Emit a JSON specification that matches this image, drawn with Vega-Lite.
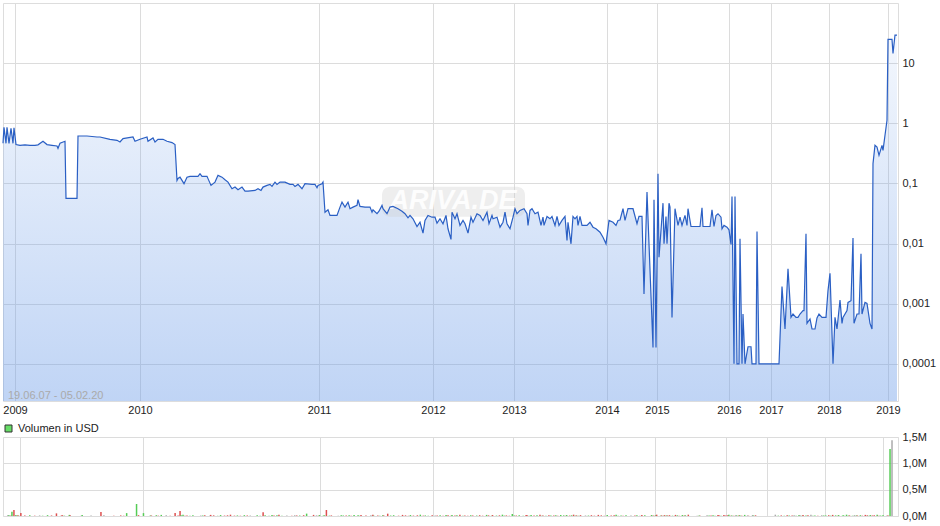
{
  "$schema": "https://vega.github.io/schema/vega-lite/v6.json",
  "padding": {"left": 0, "top": 2, "right": 0, "bottom": 0},
  "bounds": "flush",
  "spacing": 36,
  "background": "#ffffff",
  "resolve": {"scale": {"fill": "independent", "color": "independent"}, "legend": {"fill": "independent", "color": "independent"}},
  "datasets": {
    "px": [
      {"n":0,"p":0.464,"v":20000},{"n":1,"p":0.858,"v":15000},{"n":3,"p":0.464,"v":9000},{"n":4,"p":0.858,"v":80000},{"n":6,"p":0.464,"v":114000},{"n":8,"p":0.825,"v":21000},{"n":10,"p":0.464,"v":12000},{"n":11,"p":0.841,"v":6000},{"n":13,"p":0.442,"v":57000},{"n":17,"p":0.43,"v":8000},{"n":22,"p":0.438,"v":13000},{"n":27,"p":0.43,"v":6000},{"n":32,"p":0.43,"v":11000},{"n":35,"p":0.438,"v":5000},{"n":40,"p":0.501,"v":16000},{"n":44,"p":0.442,"v":10000},{"n":49,"p":0.43,"v":50000},{"n":54,"p":0.419,"v":9000},{"n":55,"p":0.383,"v":15000},{"n":57,"p":0.464,"v":6000},{"n":62,"p":0.501,"v":21000},{"n":63,"p":0.0562,"v":12000},{"n":74,"p":0.0562,"v":4000},{"n":75,"p":0.614,"v":18000},{"n":84,"p":0.614,"v":8000},{"n":94,"p":0.591,"v":76000},{"n":97,"p":0.591,"v":13000},{"n":107,"p":0.541,"v":7000},{"n":114,"p":0.521,"v":11000},{"n":117,"p":0.488,"v":5000},{"n":120,"p":0.556,"v":55000},{"n":130,"p":0.591,"v":228000},{"n":132,"p":0.501,"v":16000},{"n":137,"p":0.541,"v":55000},{"n":144,"p":0.591,"v":10000},{"n":145,"p":0.501,"v":9000},{"n":150,"p":0.569,"v":15000},{"n":152,"p":0.488,"v":6000},{"n":155,"p":0.541,"v":21000},{"n":160,"p":0.541,"v":12000},{"n":164,"p":0.501,"v":4000},{"n":169,"p":0.477,"v":55000},{"n":172,"p":0.442,"v":8000},{"n":174,"p":0.112,"v":95000},
      {"n":175,"p":0.121,"v":13000},{"n":177,"p":0.127,"v":25000},{"n":179,"p":0.112,"v":7000},{"n":181,"p":0.0989,"v":11000},{"n":184,"p":0.127,"v":5000},{"n":187,"p":0.131,"v":16000},{"n":195,"p":0.131,"v":10000},{"n":197,"p":0.145,"v":9000},{"n":199,"p":0.131,"v":15000},{"n":204,"p":0.131,"v":6000},{"n":205,"p":0.12,"v":21000},{"n":208,"p":0.0926,"v":12000},{"n":212,"p":0.105,"v":4000},{"n":215,"p":0.136,"v":18000},{"n":219,"p":0.127,"v":8000},{"n":222,"p":0.115,"v":13000},{"n":225,"p":0.105,"v":25000},{"n":229,"p":0.0816,"v":7000},{"n":232,"p":0.0868,"v":11000},{"n":235,"p":0.0785,"v":5000},{"n":239,"p":0.0868,"v":16000},{"n":242,"p":0.0745,"v":10000},{"n":245,"p":0.0745,"v":9000},{"n":252,"p":0.0764,"v":15000},{"n":255,"p":0.0816,"v":6000},{"n":258,"p":0.0764,"v":70000},{"n":260,"p":0.0868,"v":12000},{"n":264,"p":0.0926,"v":4000},{"n":267,"p":0.0962,"v":18000},{"n":269,"p":0.0891,"v":8000},{"n":272,"p":0.105,"v":13000},{"n":274,"p":0.0962,"v":25000},{"n":277,"p":0.105,"v":7000},{"n":282,"p":0.105,"v":11000},{"n":287,"p":0.0962,"v":5000},{"n":290,"p":0.0962,"v":16000},{"n":292,"p":0.0891,"v":10000},{"n":295,"p":0.0962,"v":9000},{"n":299,"p":0.0816,"v":15000},{"n":302,"p":0.0989,"v":45000},{"n":309,"p":0.0962,"v":21000},{"n":312,"p":0.0962,"v":12000},{"n":314,"p":0.0848,"v":4000},{"n":315,"p":0.0926,"v":18000},{"n":319,"p":0.0989,"v":8000},{"n":320,"p":0.105,"v":13000},{"n":322,"p":0.0332,"v":114000},{"n":325,"p":0.0365,"v":7000},{"n":327,"p":0.0293,"v":11000},{"n":334,"p":0.0293,"v":5000},{"n":337,"p":0.0403,"v":16000},{"n":339,"p":0.0488,"v":10000},{"n":342,"p":0.0403,"v":9000},{"n":345,"p":0.0488,"v":15000},{"n":347,"p":0.0379,"v":6000},{"n":350,"p":0.0403,"v":21000},
      {"n":354,"p":0.043,"v":12000},{"n":355,"p":0.0535,"v":4000},{"n":357,"p":0.0414,"v":18000},{"n":362,"p":0.0403,"v":8000},{"n":367,"p":0.0403,"v":13000},{"n":369,"p":0.0332,"v":25000},{"n":370,"p":0.0365,"v":7000},{"n":374,"p":0.0313,"v":11000},{"n":376,"p":0.0345,"v":5000},{"n":379,"p":0.043,"v":16000},{"n":380,"p":0.0379,"v":10000},{"n":384,"p":0.0313,"v":44000},{"n":387,"p":0.0403,"v":9000},{"n":390,"p":0.0414,"v":15000},{"n":395,"p":0.0379,"v":6000},{"n":399,"p":0.0345,"v":21000},{"n":402,"p":0.0313,"v":12000},{"n":405,"p":0.0268,"v":4000},{"n":407,"p":0.0293,"v":18000},{"n":410,"p":0.0258,"v":8000},{"n":414,"p":0.0192,"v":13000},{"n":417,"p":0.0226,"v":25000},{"n":420,"p":0.0149,"v":7000},{"n":422,"p":0.0242,"v":11000},{"n":425,"p":0.0293,"v":5000},{"n":429,"p":0.0274,"v":16000},{"n":432,"p":0.0274,"v":10000},{"n":434,"p":0.0218,"v":9000},{"n":437,"p":0.0258,"v":15000},{"n":440,"p":0.0213,"v":6000},{"n":443,"p":0.0293,"v":21000},{"n":445,"p":0.0176,"v":12000},{"n":448,"p":0.0117,"v":4000},{"n":449,"p":0.0332,"v":18000},{"n":452,"p":0.0258,"v":8000},{"n":454,"p":0.0313,"v":13000},{"n":457,"p":0.02,"v":25000},{"n":460,"p":0.0242,"v":7000},{"n":462,"p":0.0213,"v":11000},{"n":465,"p":0.0149,"v":5000},{"n":468,"p":0.0274,"v":16000},{"n":470,"p":0.0226,"v":10000},{"n":474,"p":0.0313,"v":9000},{"n":477,"p":0.0293,"v":15000},{"n":480,"p":0.0242,"v":6000},{"n":484,"p":0.0332,"v":21000},{"n":486,"p":0.0213,"v":12000},{"n":489,"p":0.0293,"v":4000},{"n":490,"p":0.0258,"v":18000},{"n":494,"p":0.0274,"v":8000},{"n":497,"p":0.0187,"v":13000},{"n":500,"p":0.0226,"v":25000},{"n":502,"p":0.0332,"v":7000},{"n":504,"p":0.0213,"v":11000},{"n":507,"p":0.0176,"v":5000},{"n":510,"p":0.0274,"v":38000},{"n":512,"p":0.0379,"v":10000},{"n":514,"p":0.0313,"v":9000},{"n":517,"p":0.0355,"v":15000},{"n":521,"p":0.0379,"v":6000},{"n":524,"p":0.0313,"v":21000},{"n":525,"p":0.02,"v":12000},{"n":527,"p":0.0355,"v":4000},
      {"n":529,"p":0.0379,"v":18000},{"n":532,"p":0.0313,"v":8000},{"n":535,"p":0.0332,"v":13000},{"n":538,"p":0.02,"v":25000},{"n":540,"p":0.0274,"v":7000},{"n":541,"p":0.02,"v":11000},{"n":544,"p":0.0282,"v":5000},{"n":547,"p":0.0258,"v":16000},{"n":549,"p":0.0282,"v":10000},{"n":552,"p":0.02,"v":9000},{"n":554,"p":0.0282,"v":15000},{"n":556,"p":0.02,"v":6000},{"n":559,"p":0.0242,"v":21000},{"n":562,"p":0.0282,"v":12000},{"n":564,"p":0.0112,"v":4000},{"n":565,"p":0.0226,"v":18000},{"n":568,"p":0.00989,"v":8000},{"n":570,"p":0.0282,"v":13000},{"n":572,"p":0.0258,"v":25000},{"n":574,"p":0.0282,"v":7000},{"n":575,"p":0.02,"v":11000},{"n":577,"p":0.0282,"v":5000},{"n":579,"p":0.02,"v":16000},{"n":584,"p":0.02,"v":10000},{"n":587,"p":0.0226,"v":9000},{"n":590,"p":0.0187,"v":15000},{"n":593,"p":0.0176,"v":6000},{"n":597,"p":0.0154,"v":21000},{"n":600,"p":0.0127,"v":12000},{"n":603,"p":0.00989,"v":4000},{"n":606,"p":0.0242,"v":18000},{"n":610,"p":0.0226,"v":8000},{"n":613,"p":0.02,"v":13000},{"n":615,"p":0.0242,"v":25000},{"n":617,"p":0.0246,"v":7000},{"n":620,"p":0.0379,"v":11000},{"n":622,"p":0.0242,"v":5000},{"n":625,"p":0.0379,"v":16000},{"n":630,"p":0.0379,"v":10000},{"n":634,"p":0.0213,"v":9000},{"n":636,"p":0.0282,"v":15000},{"n":639,"p":0.0282,"v":6000},{"n":641,"p":0.00145,"v":21000},{"n":644,"p":0.0716,"v":12000},{"n":650,"p":0.000187,"v":4000},{"n":651,"p":0.0535,"v":18000},{"n":653,"p":0.000187,"v":8000},{"n":655,"p":0.145,"v":13000},{"n":656,"p":0.00591,"v":25000},{"n":660,"p":0.0469,"v":7000},{"n":661,"p":0.00989,"v":11000},{"n":663,"p":0.0282,"v":5000},{"n":664,"p":0.00989,"v":16000},{"n":666,"p":0.0469,"v":10000},{"n":667,"p":0.0403,"v":9000},{"n":669,"p":0.000591,"v":15000},{"n":672,"p":0.0379,"v":6000},{"n":675,"p":0.02,"v":21000},{"n":677,"p":0.0274,"v":12000},{"n":679,"p":0.02,"v":4000},{"n":682,"p":0.0293,"v":18000},{"n":684,"p":0.02,"v":8000},{"n":685,"p":0.0379,"v":13000},{"n":688,"p":0.0192,"v":25000},{"n":697,"p":0.0192,"v":7000},
      {"n":699,"p":0.0394,"v":11000},{"n":700,"p":0.0192,"v":5000},{"n":707,"p":0.0192,"v":16000},{"n":709,"p":0.0365,"v":10000},{"n":711,"p":0.0192,"v":9000},{"n":713,"p":0.0293,"v":15000},{"n":715,"p":0.0313,"v":6000},{"n":718,"p":0.0274,"v":21000},{"n":719,"p":0.0176,"v":12000},{"n":721,"p":0.02,"v":4000},{"n":724,"p":0.0187,"v":18000},{"n":726,"p":0.0169,"v":8000},{"n":728,"p":0.00962,"v":13000},{"n":729,"p":0.0607,"v":25000},{"n":731,"p":0.0001,"v":7000},{"n":732,"p":0.0607,"v":11000},{"n":734,"p":0.0001,"v":5000},{"n":736,"p":0.0001,"v":16000},{"n":737,"p":0.012,"v":10000},{"n":739,"p":0.0001,"v":9000},{"n":740,"p":0.000673,"v":15000},{"n":742,"p":0.0001,"v":6000},{"n":745,"p":0.000192,"v":21000},{"n":748,"p":0.000192,"v":12000},{"n":749,"p":0.0001,"v":4000},{"n":753,"p":0.0001,"v":18000},{"n":754,"p":0.0158,"v":8000},{"n":756,"p":0.0001,"v":13000},{"n":776,"p":0.0001,"v":25000},{"n":779,"p":0.00192,"v":7000},{"n":782,"p":0.000379,"v":11000},{"n":785,"p":0.00379,"v":5000},{"n":788,"p":0.000591,"v":16000},{"n":790,"p":0.000673,"v":10000},{"n":793,"p":0.000591,"v":9000},{"n":795,"p":0.000591,"v":15000},{"n":797,"p":0.000673,"v":6000},{"n":800,"p":0.000764,"v":21000},{"n":801,"p":0.000764,"v":12000},{"n":803,"p":0.0145,"v":4000},{"n":804,"p":0.00047,"v":18000},{"n":807,"p":0.000556,"v":8000},{"n":809,"p":0.000379,"v":13000},{"n":812,"p":0.000379,"v":25000},{"n":814,"p":0.000578,"v":7000},{"n":816,"p":0.000673,"v":11000},{"n":819,"p":0.000591,"v":5000},{"n":823,"p":0.000591,"v":16000},{"n":825,"p":0.00165,"v":10000},{"n":827,"p":0.0032,"v":9000},{"n":830,"p":0.0001,"v":15000},{"n":832,"p":0.000591,"v":6000},{"n":834,"p":0.000379,"v":21000},{"n":837,"p":0.00115,"v":12000},{"n":839,"p":0.00047,"v":4000},{"n":840,"p":0.000591,"v":18000},{"n":844,"p":0.000764,"v":8000},{"n":845,"p":0.00105,"v":13000},{"n":848,"p":0.00112,"v":25000},{"n":850,"p":0.0124,"v":7000},{"n":851,"p":0.00047,"v":11000},{"n":854,"p":0.000673,"v":5000},{"n":856,"p":0.000673,"v":16000},{"n":858,"p":0.00674,"v":10000},{"n":859,"p":0.000673,"v":9000},{"n":862,"p":0.00105,"v":15000},{"n":864,"p":0.00101,"v":6000},{"n":867,"p":0.00047,"v":21000},{"n":869,"p":0.000379,"v":12000},{"n":870,"p":0.213,"v":4000},{"n":872,"p":0.43,"v":18000},{"n":874,"p":0.403,"v":8000},{"n":876,"p":0.293,"v":13000},{"n":879,"p":0.43,"v":25000},{"n":880,"p":0.355,"v":7000},{"n":882,"p":0.631,"v":11000},{"n":884,"p":1.12,"v":5000},{"n":885,"p":24.8,"v":16000},{"n":889,"p":24.8,"v":10000},{"n":890,"p":14.5,"v":9000},{"n":892,"p":29.3,"v":1270000},{"n":894,"p":29.3,"v":1440000}
    ]
  },
  "vconcat": [
    {
      "width": 895,
      "height": 398,
      "layer": [
        {
          "data": {"name": "px"},
          "mark": {
            "type": "area",
            "interpolate": "linear",
            "fill": {
              "gradient": "linear", "x1": 0, "y1": 0, "x2": 0, "y2": 1,
              "stops": [
                {"offset": 0, "color": "rgba(108,156,232,0.08)"},
                {"offset": 1, "color": "rgba(108,156,232,0.43)"}
              ]
            }
          },
          "encoding": {
            "x": {
              "field": "n", "type": "quantitative",
              "scale": {"domain": [0, 895], "nice": false, "zero": false},
              "axis": {
                "values": [12, 137, 316, 430, 511, 604, 654, 726, 768, 826, 885],
                "labelExpr": "['2009','2010','2011','2012','2013','2014','2015','2016','2017','2018','2019'][indexof([12,137,316,430,511,604,654,726,768,826,885], datum.value)]",
                "title": null, "grid": true, "ticks": false, "domain": false,
                "labelPadding": 3, "labelFlush": false, "labelOverlap": false
              }
            },
            "y": {
              "field": "p", "type": "quantitative",
              "scale": {"type": "log", "domain": [0.00002404, 100], "nice": false},
              "axis": {
                "orient": "right",
                "values": [0.0001, 0.001, 0.01, 0.1, 1, 10],
                "labelExpr": "replace(format(datum.value, '~g'), '.', ',')",
                "title": null, "grid": true, "ticks": false, "domain": false,
                "labelPadding": 4
              }
            },
            "y2": {"datum": 0.00002404}
          }
        },
        {
          "data": {"values": [{"w": "ARIVA.DE"}]},
          "mark": {"type": "rect", "cornerRadius": 8, "fill": "#cfcfcf", "opacity": 0.35},
          "encoding": {
            "x": {"datum": 379, "type": "quantitative"},
            "x2": {"datum": 522},
            "y": {"datum": 0.088, "type": "quantitative"},
            "y2": {"datum": 0.028}
          }
        },
        {
          "data": {"values": [{"w": "ARIVA.DE"}]},
          "mark": {"type": "text", "font": "Liberation Sans", "fontSize": 27, "fontWeight": "bold", "fontStyle": "italic", "fill": "#ffffff", "opacity": 0.9, "align": "center", "baseline": "middle"},
          "encoding": {
            "text": {"field": "w"},
            "x": {"datum": 450, "type": "quantitative"},
            "y": {"datum": 0.05, "type": "quantitative"}
          }
        },
        {
          "data": {"name": "px"},
          "mark": {"type": "line", "interpolate": "linear", "color": "#2a5fc4", "strokeWidth": 1.2},
          "encoding": {
            "x": {"field": "n", "type": "quantitative"},
            "y": {"field": "p", "type": "quantitative"}
          }
        },
        {
          "data": {"values": [{"t": "19.06.07 - 05.02.20"}]},
          "mark": {"type": "text", "align": "left", "baseline": "alphabetic", "dy": -2, "fontSize": 11, "color": "#aaaaaa", "font": "Liberation Sans"},
          "encoding": {
            "text": {"field": "t"},
            "x": {"datum": 5, "type": "quantitative"},
            "y": {"datum": 0.00002404, "type": "quantitative"}
          }
        }
      ]
    },
    {
      "width": 895,
      "height": 79,
      "resolve": {"scale": {"fill": "independent"}},
      "layer": [
        {
          "data": {"name": "px"},
          "transform": [
            {"window": [{"op": "lag", "field": "p", "as": "pp"}], "sort": [{"field": "n"}]}
          ],
          "mark": {"type": "bar", "size": 1.5},
          "encoding": {
            "x": {
              "field": "n", "type": "quantitative",
              "scale": {"domain": [0, 895], "nice": false, "zero": false},
              "axis": {
                "values": [12, 137, 316, 430, 511, 604, 654, 726, 768, 826, 885],
                "title": null, "grid": true, "ticks": false, "domain": false, "labels": false
              }
            },
            "y": {
              "field": "v", "type": "quantitative",
              "scale": {"domain": [0, 1500000], "nice": false},
              "axis": {
                "orient": "right",
                "values": [0, 500000, 1000000, 1500000],
                "labelExpr": "replace(format(datum.value / 1000000, '.1f'), '.', ',') + 'M'",
                "title": null, "grid": true, "ticks": false, "domain": false,
                "labelPadding": 4
              }
            },
            "color": {
              "condition": [
                {"test": "datum.pp != null && datum.p > datum.pp", "value": "#55cc55"},
                {"test": "datum.pp != null && datum.p < datum.pp", "value": "#dd5050"}
              ],
              "value": "#aaaaaa"
            }
          }
        },
        {
          "data": {"values": [{"k": "Volumen in USD"}]},
          "mark": {"type": "square", "opacity": 0},
          "encoding": {
            "fill": {
              "field": "k", "type": "nominal",
              "scale": {"range": ["#66dd66"]},
              "legend": {
                "orient": "none", "legendX": 0, "legendY": -14,
                "title": null, "padding": 0,
                "symbolType": "square", "symbolSize": 49, "symbolOpacity": 1,
                "symbolStrokeColor": "#333333", "symbolStrokeWidth": 1,
                "labelFontSize": 11, "labelColor": "#222222", "labelOffset": 4,
                "labelFont": "Liberation Sans"
              }
            }
          }
        }
      ]
    }
  ],
  "config": {
    "font": "Liberation Sans",
    "view": {"stroke": "#dddddd"},
    "axis": {
      "gridColor": "#dcdcdc",
      "gridWidth": 1,
      "labelFont": "Liberation Sans",
      "labelFontSize": 11,
      "labelColor": "#222222"
    }
  }
}
